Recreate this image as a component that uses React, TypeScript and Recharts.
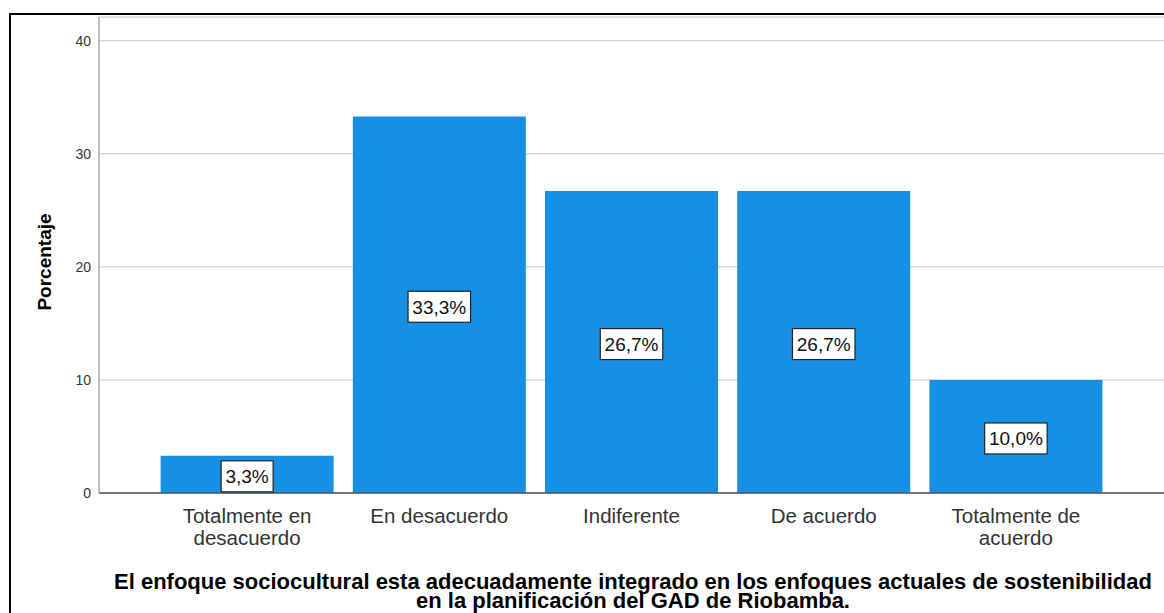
import React from "react";
import { Bar, BarChart, CartesianGrid, LabelList, XAxis, YAxis } from "recharts";

const categories = [
  "Totalmente en desacuerdo",
  "En desacuerdo",
  "Indiferente",
  "De acuerdo",
  "Totalmente de acuerdo",
];
const tickLines = [
  ["Totalmente en", "desacuerdo"],
  ["En desacuerdo"],
  ["Indiferente"],
  ["De acuerdo"],
  ["Totalmente de", "acuerdo"],
];
const percentages = [3.3, 33.3, 26.7, 26.7, 10.0];
const yTicks = [0, 10, 20, 30, 40];
const xTitle = [
  "El enfoque sociocultural esta adecuadamente integrado en los enfoques actuales de sostenibilidad",
  "en la planificación del GAD de Riobamba.",
];
const yTitle = "Porcentaje";

const data = categories.map((c, i) => ({ name: c, value: percentages[i] }));

const FONT = "'Liberation Sans', Arial, sans-serif";

const fmt = (v: number) => v.toFixed(1).replace(".", ",") + "%";

const CategoryTick = (props: any) => {
  const { x, y, payload } = props;
  const idx = categories.indexOf(payload.value);
  const lines = tickLines[idx] || [payload.value];
  return (
    <text x={x} y={y} textAnchor="middle" fontFamily={FONT} fontSize={20.5} fill="#333">
      {lines.map((l, i) => (
        <tspan key={i} x={x} y={y + 22 + i * 22}>
          {l}
        </tspan>
      ))}
    </text>
  );
};

const ValueBox = (props: any) => {
  const { x, y, width, height, value } = props;
  const txt = fmt(Number(value));
  const cx = x + width / 2;
  const cy = y + height / 2 + 2;
  const w = txt.length * 10.5 + 10;
  return (
    <g>
      <rect x={cx - w / 2} y={cy - 15.5} width={w} height={31} fill="#fff" stroke="#222" strokeWidth={1.2} />
      <text x={cx} y={cy + 7} textAnchor="middle" fontFamily={FONT} fontSize={19} fill="#111">
        {txt}
      </text>
    </g>
  );
};

const App = () => {
  return (
    <div style={{ position: "absolute", left: 0, top: 0, width: 1164, height: 613, overflow: "hidden", background: "#fff" }}>
      <div
        style={{
          position: "absolute",
          left: 9,
          top: 13,
          width: 1300,
          height: 800,
          border: "2px solid #000",
        }}
      />
      <div style={{ position: "absolute", left: 0, top: 0 }}>
        <BarChart
          width={1164}
          height={613}
          data={data}
          margin={{ top: 17, right: 0, bottom: 0, left: 0 }}
          barCategoryGap="5%"
        >
          <CartesianGrid vertical={false} stroke="#c8c8c8" />
          <XAxis
            dataKey="name"
            height={120}
            padding={{ left: 52, right: 52 }}
            tickLine={false}
            axisLine={{ stroke: "#555", strokeWidth: 1.5 }}
            tick={<CategoryTick />}
            interval={0}
            label={{
              content: () => (
                <text textAnchor="middle" fontFamily={FONT} fontSize={22} fontWeight="bold" fill="#000">
                  <tspan x={633} y={589}>{xTitle[0]}</tspan>
                  <tspan x={633} y={608}>{xTitle[1]}</tspan>
                </text>
              ),
            }}
          />
          <YAxis
            width={99}
            domain={[0, 42.1]}
            ticks={yTicks}
            tickLine={false}
            axisLine={{ stroke: "#aaa", strokeWidth: 1.5 }}
            tick={{ fontFamily: FONT, fontSize: 14, fill: "#333" }}
            label={{
              content: () => (
                <text
                  x={51}
                  y={262}
                  transform="rotate(-90 51 262)"
                  textAnchor="middle"
                  fontFamily={FONT}
                  fontSize={19}
                  fontWeight="bold"
                  fill="#000"
                >
                  {yTitle}
                </text>
              ),
            }}
          />
          <Bar dataKey="value" fill="#1590e5" isAnimationActive={false}>
            <LabelList dataKey="value" content={<ValueBox />} />
          </Bar>
        </BarChart>
      </div>
    </div>
  );
};

export default App;
